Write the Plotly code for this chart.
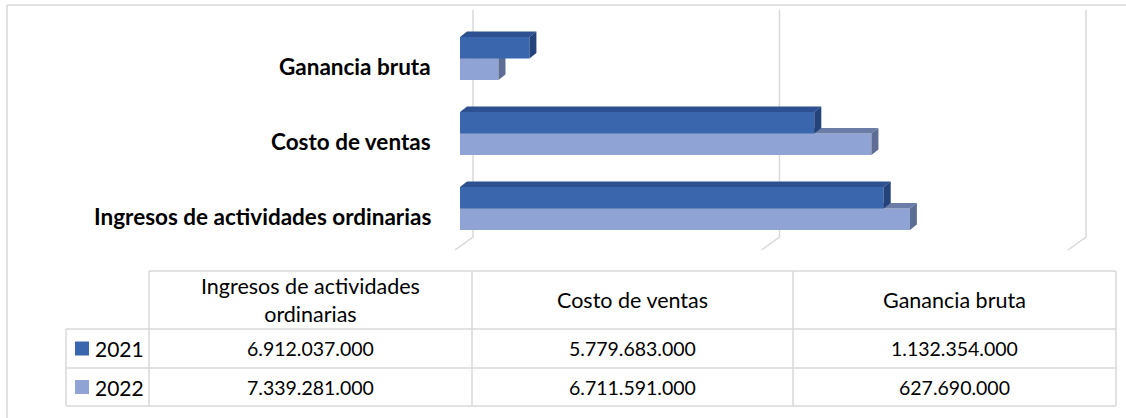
import plotly.graph_objects as go

# ---------------- data ----------------
categories = ["Ingresos de actividades ordinarias", "Costo de ventas", "Ganancia bruta"]
header_labels = ["Ingresos de actividades<br>ordinarias", "Costo de ventas", "Ganancia bruta"]
series_names = ["2021", "2022"]
values_2021 = [6912037000, 5779683000, 1132354000]
values_2022 = [7339281000, 6711591000, 627690000]
grid_ticks = [0, 5e9, 1e10]

# ---------------- styling / geometry ----------------
W, H = 1126, 418
FONT = "Lato"
GRID = "#d9d9d9"
COL_2021 = dict(front="#3A66AD", top="#2D5190", side="#24437B")
COL_2022 = dict(front="#8FA3D5", top="#6B7DA6", side="#5D6D93")

X0_PX = 460.0                 # pixel of value 0 (front)
PPU = 613.0 / 1e10            # pixels per unit on x
Y0_PX = 208.5                 # pixel of category index 0
PPY = 75.0                    # pixels per category step
x_range = [-X0_PX / PPU, (W - X0_PX) / PPU]
y_range = [-(H - Y0_PX) / PPY, Y0_PX / PPY]

BT = 21.5 / PPY               # bar thickness (data units)
DX = 7.0 / PPU                # depth offset x
DY = 5.5 / PPY                # depth offset y


def px(x):
    return x / W


def py(y):
    return 1 - y / H


fig = go.Figure()

# gridlines (back wall + floor)
gx, gy = [], []
for t in grid_ticks:
    gx += [t + 13 / PPU, t + 13 / PPU, t - 5 / PPU, None]
    gy += [(Y0_PX - 10) / PPY, -(237 - Y0_PX) / PPY, -(250 - Y0_PX) / PPY, None]
fig.add_trace(go.Scatter(x=gx, y=gy, mode="lines", line=dict(color=GRID, width=1.5),
                         hoverinfo="skip", showlegend=False))


def faces(values, upper):
    fx, fy, tx, ty, sx, sy = [], [], [], [], [], []
    for i, v in enumerate(values):
        y0, y1 = (i, i + BT) if upper else (i - BT, i)
        fx += [0, v, v, 0, 0, None]
        fy += [y0, y0, y1, y1, y0, None]
        tx += [0, v, v + DX, DX, 0, None]
        ty += [y1, y1, y1 + DY, y1 + DY, y1, None]
        sx += [v, v, v + DX, v + DX, v, None]
        sy += [y0, y1, y1 + DY, y0 + DY, y0, None]
    return (fx, fy), (tx, ty), (sx, sy)


for name, vals, upper, cols in [("2022", values_2022, False, COL_2022),
                                ("2021", values_2021, True, COL_2021)]:
    fr, tp, sd = faces(vals, upper)
    for (xx, yy), c in [(fr, cols["front"]), (tp, cols["top"]), (sd, cols["side"])]:
        fig.add_trace(go.Scatter(x=xx, y=yy, mode="lines", fill="toself", fillcolor=c,
                                 line=dict(width=0, color=c), hoverinfo="skip",
                                 showlegend=False, name=name))

annotations = []
# category labels
for i, cat in enumerate(categories):
    annotations.append(dict(x=0, y=i - 7.5 / PPY, xref="x", yref="y", text="<b>" + cat + "</b>",
                            xanchor="right", yanchor="middle", xshift=-27, showarrow=False,
                            font=dict(family=FONT, size=22.5, color="#000000")))

# ---------------- data table ----------------
col_edges = [66, 149, 472, 793, 1116]
row_edges = [271, 329, 368, 406]
shapes = []


def hline(y, x0, x1):
    shapes.append(dict(type="line", xref="paper", yref="paper", x0=px(x0), x1=px(x1),
                       y0=py(y), y1=py(y), line=dict(color=GRID, width=1.5)))


def vline(x, y0, y1):
    shapes.append(dict(type="line", xref="paper", yref="paper", x0=px(x), x1=px(x),
                       y0=py(y0), y1=py(y1), line=dict(color=GRID, width=1.5)))


# outer chart border
hline(5, 7, W)
vline(7, 5, H)

hline(row_edges[0], col_edges[1], col_edges[-1])
for r in row_edges[1:]:
    hline(r, col_edges[0], col_edges[-1])
vline(col_edges[0], row_edges[1], row_edges[-1])
for c in col_edges[1:]:
    vline(c, row_edges[0], row_edges[-1])

HFONT = dict(family=FONT, size=21.5, color="#000000")
VFONT = dict(family=FONT, size=19.5, color="#000000")
LFONT = dict(family=FONT, size=21, color="#000000")
for j, hdr in enumerate(header_labels):
    cx = (col_edges[j + 1] + col_edges[j + 2]) / 2
    cy = (row_edges[0] + row_edges[1]) / 2
    annotations.append(dict(x=px(cx), y=py(cy), xref="paper", yref="paper", text=hdr,
                            showarrow=False, xanchor="center", yanchor="middle", font=HFONT))


def fmt(v):
    return f"{v:,}".replace(",", ".")


for r, (name, vals, cols) in enumerate([("2021", values_2021, COL_2021),
                                         ("2022", values_2022, COL_2022)]):
    cy = (row_edges[r + 1] + row_edges[r + 2]) / 2
    shapes.append(dict(type="rect", xref="paper", yref="paper", x0=px(75), x1=px(89),
                       y0=py(cy + 7), y1=py(cy - 7), fillcolor=cols["front"], line=dict(width=0)))
    annotations.append(dict(x=px(93), y=py(cy), xref="paper", yref="paper", text=name,
                            showarrow=False, xanchor="left", yanchor="middle", font=LFONT))
    for j, v in enumerate(vals):
        cx = (col_edges[j + 1] + col_edges[j + 2]) / 2
        annotations.append(dict(x=px(cx), y=py(cy), xref="paper", yref="paper", text=fmt(v),
                                showarrow=False, xanchor="center", yanchor="middle", font=VFONT))

fig.update_layout(
    width=W, height=H,
    margin=dict(l=0, r=0, t=0, b=0),
    paper_bgcolor="white", plot_bgcolor="white",
    xaxis=dict(range=x_range, visible=False, fixedrange=True),
    yaxis=dict(range=y_range, visible=False, fixedrange=True),
    showlegend=False,
    shapes=shapes,
    annotations=annotations,
)

fig.write_html("out.html", config={"displayModeBar": False},
               post_script="document.body.style.margin='0px';")
